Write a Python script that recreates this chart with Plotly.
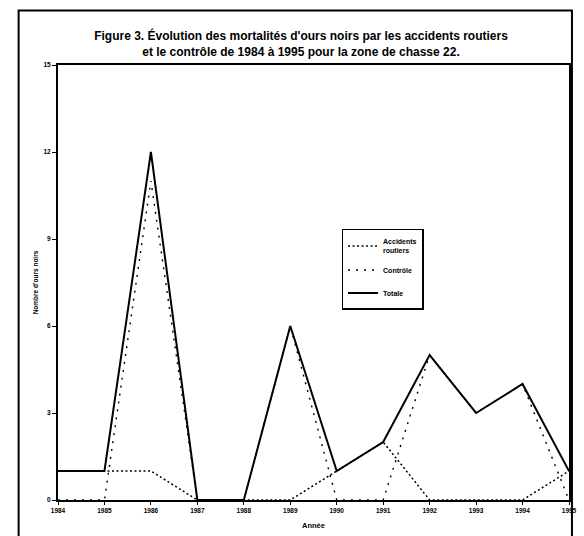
import plotly.graph_objects as go

years = [1984, 1985, 1986, 1987, 1988, 1989, 1990, 1991, 1992, 1993, 1994, 1995]
accidents = [1, 1, 1, 0, 0, 0, 1, 2, 0, 0, 0, 1]
controle = [0, 0, 11, 0, 0, 6, 0, 0, 5, 3, 4, 0]
totale = [1, 1, 12, 0, 0, 6, 1, 2, 5, 3, 4, 1]
y_ticks = [0, 3, 6, 9, 12, 15]

W, H = 584, 536
L, R, T, B = 58, 7, 65, 33
pw, ph = W - L - R, H - T - B

def px_x(x):
    return (x - L) / pw

def px_y(y):
    return (H - B - y) / ph

FONT = "Liberation Sans"

fig = go.Figure()
fig.add_trace(go.Scatter(x=years, y=accidents, mode="lines", name="Accidents<br>routiers",
                         line=dict(color="black", width=1.5, dash="2px,2.5px"), legendgroup="a"))
fig.add_trace(go.Scatter(x=years, y=controle, mode="lines", name="Contrôle",
                         line=dict(color="black", width=1.4, dash="2px,6px"), legendgroup="b"))
fig.add_trace(go.Scatter(x=years, y=totale, mode="lines", name="Totale",
                         line=dict(color="black", width=2), legendgroup="c"))

fig.update_layout(
    width=W, height=H, autosize=False,
    margin=dict(l=L, r=R, t=T, b=B),
    paper_bgcolor="white", plot_bgcolor="white",
    font=dict(family=FONT, color="black", size=7, weight="bold"),
    title=dict(
        text="Figure 3. Évolution des mortalités d'ours noirs par les accidents routiers<br>et le contrôle de 1984 à 1995 pour la zone de chasse 22.",
        x=301 / W, xanchor="center", xref="container",
        y=1 - 40 / H, yanchor="top", yref="container",
        font=dict(family=FONT, size=12, color="black", weight="bold"),
    ),
    showlegend=True,
    legend=dict(
        x=px_x(346), y=px_y(230), xanchor="left", yanchor="top",
        bgcolor="white", bordercolor="black", borderwidth=1.5,
        font=dict(family=FONT, size=7, color="black", weight="bold"),
        itemwidth=30, traceorder="grouped", tracegroupgap=4,
    ),
    xaxis=dict(
        range=[1984, 1995], tickmode="array", tickvals=years,
        ticktext=[str(y) for y in years],
        showgrid=False, zeroline=False, showline=True, linecolor="black", linewidth=2,
        mirror=True, ticks="outside", ticklen=3, tickcolor="black",
        tickfont=dict(family=FONT, size=6.5, weight="bold"),
        title=dict(text="Année", standoff=10, font=dict(family=FONT, size=7.5, weight="bold")),
    ),
    yaxis=dict(
        range=[0, 15], tickmode="array", tickvals=y_ticks,
        showgrid=False, zeroline=False, showline=True, linecolor="black", linewidth=2,
        mirror=True, ticks="outside", ticklen=4, tickcolor="black",
        tickfont=dict(family=FONT, size=6.5, weight="bold"),
        title=dict(text="Nombre d'ours noirs", standoff=4, font=dict(family=FONT, size=6.5, weight="bold")),
    ),
)

# outer figure frame
fig.add_shape(type="rect", xref="paper", yref="paper",
              x0=px_x(18), x1=px_x(580), y0=px_y(545), y1=px_y(10),
              line=dict(color="black", width=2), layer="below")

fig.write_html("out.html", config={"displayModeBar": False},
               post_script="document.body.style.margin='0';document.body.style.overflow='hidden';")
